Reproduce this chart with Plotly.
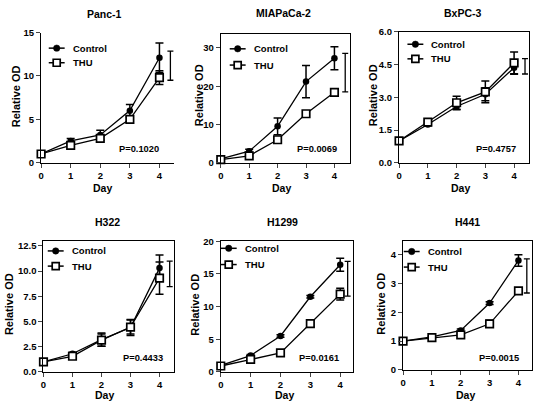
import plotly.graph_objects as go

W, H = 537, 409

days = [0, 1, 2, 3, 4]
day_ticks = ["0", "1", "2", "3", "4"]
panel_titles = ["Panc-1", "MIAPaCa-2", "BxPC-3", "H322", "H1299", "H441"]
p_values = ["P=0.1020", "P=0.0069", "P=0.4757", "P=0.4433", "P=0.0161", "P=0.0015"]
series_names = ["Control", "THU"]

panc1_ctrl = [1.0, 2.5, 3.2, 6.0, 12.1]
panc1_ctrl_err = [0.1, 0.3, 0.55, 0.7, 1.7]
panc1_thu = [1.0, 2.0, 2.8, 5.0, 9.8]
panc1_thu_err = [0.1, 0.2, 0.25, 0.3, 0.8]
panc1_bracket = [9.5, 12.85]

mia_ctrl = [1.0, 3.0, 9.5, 21.2, 27.3]
mia_ctrl_err = [0.3, 0.5, 2.2, 4.2, 3.0]
mia_thu = [0.8, 1.8, 6.0, 12.8, 18.4]
mia_thu_err = [0.2, 0.3, 0.8, 0.5, 0.5]
mia_bracket = [18.5, 28.6]

bx_ctrl = [1.0, 1.75, 2.58, 3.14, 4.36]
bx_ctrl_err = [0.03, 0.05, 0.15, 0.3, 0.3]
bx_thu = [1.0, 1.86, 2.75, 3.25, 4.58]
bx_thu_err = [0.03, 0.05, 0.3, 0.5, 0.5]
bx_bracket = [4.07, 4.78]

h322_ctrl = [1.0, 1.8, 3.2, 4.4, 10.3]
h322_ctrl_err = [0.05, 0.15, 0.65, 0.8, 1.3]
h322_thu = [1.0, 1.55, 3.15, 4.45, 9.3]
h322_thu_err = [0.05, 0.15, 0.6, 0.7, 1.6]
h322_bracket = [8.47, 11.0]

h1299_ctrl = [1.0, 2.5, 5.5, 11.5, 16.4]
h1299_ctrl_err = [0.1, 0.15, 0.2, 0.2, 1.0]
h1299_thu = [0.9, 1.9, 2.9, 7.4, 11.9]
h1299_thu_err = [0.1, 0.15, 0.2, 0.5, 0.9]
h1299_bracket = [11.6, 16.9]

h441_ctrl = [1.0, 1.15, 1.37, 2.32, 3.8]
h441_ctrl_err = [0.02, 0.03, 0.05, 0.05, 0.2]
h441_thu = [1.0, 1.12, 1.22, 1.6, 2.74]
h441_thu_err = [0.02, 0.03, 0.05, 0.12, 0.05]
h441_bracket = [2.67, 3.85]

y_tickvals = [
    [0, 5, 10, 15],
    [0, 10, 20, 30],
    [0, 1.5, 3.0, 4.5, 6.0],
    [0, 2.5, 5.0, 7.5, 10.0, 12.5],
    [0, 5, 10, 15, 20],
    [0, 1, 2, 3, 4],
]
y_ticktext = [
    ["0", "5", "10", "15"],
    ["0", "10", "20", "30"],
    ["0.0", "1.5", "3.0", "4.5", "6.0"],
    ["0.0", "2.5", "5.0", "7.5", "10.0", "12.5"],
    ["0", "5", "10", "15", "20"],
    ["0", "1", "2", "3", "4"],
]
y_ranges = [[0, 15], [0, 33.6], [0, 6], [0, 13.04], [0, 20], [0, 4.49]]
x_max = [4.5, 4.55, 4.52, 4.49, 4.42, 4.46]
bracket_x = [4.37, 4.38, 4.38, 4.35, 4.25, 4.29]

ctrl_all = [panc1_ctrl, mia_ctrl, bx_ctrl, h322_ctrl, h1299_ctrl, h441_ctrl]
ctrl_err_all = [panc1_ctrl_err, mia_ctrl_err, bx_ctrl_err, h322_ctrl_err, h1299_ctrl_err, h441_ctrl_err]
thu_all = [panc1_thu, mia_thu, bx_thu, h322_thu, h1299_thu, h441_thu]
thu_err_all = [panc1_thu_err, mia_thu_err, bx_thu_err, h322_thu_err, h1299_thu_err, h441_thu_err]
brackets = [panc1_bracket, mia_bracket, bx_bracket, h322_bracket, h1299_bracket, h441_bracket]

# pixel geometry of each plot area: left, right, top, bottom
boxes = [
    (38.3, 172.2, 27.3, 161.0),
    (219.0, 349.0, 29.0, 161.0),
    (398.3, 529.0, 26.7, 161.0),
    (40.7, 171.7, 241.0, 376.0),
    (219.0, 351.7, 241.7, 376.0),
    (402.3, 531.7, 241.0, 374.0),
]
title_pos = [(102.5, 8), (281.7, 7.5), (463, 7.5), (105, 221.7), (281, 221.7), (467.5, 221.7)]
ylab_pos = [(13.3, 92.5), (196.7, 92), (371.7, 92), (6.7, 306.7), (193.3, 306.7), (380, 306)]
xlab_pos = [(100, 187), (280, 187), (460, 187), (101.7, 400), (283, 400), (465, 400)]
p_pos = [(136.7, 146.7), (316, 146.7), (496, 146.7), (140.5, 361.7), (317.5, 361.7), (498.5, 361.7)]
# legend key: line start x, first row y, second row y
legend_pos = [(46, 43.3, 58.3), (228, 44, 60.7), (406.7, 39.3, 54.3),
              (45, 251.7, 267.3), (219, 249, 265.7), (403, 252.3, 268.3)]
KEY_LEN = 16
TEXT_GAP = 6

FONT = "Liberation Sans, Arial, sans-serif"

def px(x):
    return x / W

def py(y):
    return 1 - y / H

fig = go.Figure()
layout = dict(
    width=W, height=H, margin=dict(l=0, r=0, t=0, b=0),
    paper_bgcolor="white", plot_bgcolor="white", showlegend=False,
    font=dict(family=FONT, color="black", size=9),
)
annotations = []
shapes = []

for i in range(6):
    n = i + 1
    xa = "x" if n == 1 else f"x{n}"
    ya = "y" if n == 1 else f"y{n}"
    l, r, t, b = boxes[i]
    mirror = False if i == 0 else True
    layout["xaxis" if n == 1 else f"xaxis{n}"] = dict(
        domain=[px(l), px(r)], range=[0, x_max[i]], anchor=ya,
        tickvals=days, ticktext=day_ticks, ticks="outside", ticklen=4, tickwidth=1.3,
        showline=True, linecolor="black", linewidth=1.3, mirror=mirror,
        showgrid=False, zeroline=False, fixedrange=True,
        tickfont=dict(family=FONT, size=9.5, weight="bold", color="black"),
    )
    layout["yaxis" if n == 1 else f"yaxis{n}"] = dict(
        domain=[py(b), py(t)], range=y_ranges[i], anchor=xa,
        tickvals=y_tickvals[i], ticktext=y_ticktext[i], ticks="outside", ticklen=4, tickwidth=1.3,
        showline=True, linecolor="black", linewidth=1.3, mirror=mirror,
        showgrid=False, zeroline=False, fixedrange=True,
        tickfont=dict(family=FONT, size=9.5, weight="bold", color="black"),
    )
    fig.add_trace(go.Scatter(
        x=days, y=ctrl_all[i], mode="lines+markers", name=series_names[0],
        xaxis=xa, yaxis=ya, cliponaxis=False,
        line=dict(color="black", width=1.3),
        marker=dict(symbol="circle", size=6.5, color="black"),
        error_y=dict(type="data", array=ctrl_err_all[i], color="black", thickness=1.5, width=4),
    ))
    fig.add_trace(go.Scatter(
        x=days, y=thu_all[i], mode="lines+markers", name=series_names[1],
        xaxis=xa, yaxis=ya, cliponaxis=False,
        line=dict(color="black", width=1.3),
        marker=dict(symbol="square", size=7.5, color="white", line=dict(color="black", width=1.7)),
        error_y=dict(type="data", array=thu_err_all[i], color="black", thickness=1.5, width=4),
    ))
    lo, hi = brackets[i]
    fig.add_trace(go.Scatter(
        x=[bracket_x[i]], y=[(lo + hi) / 2], mode="markers", showlegend=False,
        xaxis=xa, yaxis=ya, cliponaxis=False, hoverinfo="skip",
        marker=dict(size=1, color="rgba(0,0,0,0)"),
        error_y=dict(type="data", array=[(hi - lo) / 2], color="black", thickness=1.3, width=3),
    ))

    # legend keys (decoration)
    kx, ky1, ky2 = legend_pos[i]
    for name, ky, sym in [(series_names[0], ky1, "circle"), (series_names[1], ky2, "square")]:
        shapes.append(dict(type="line", xref="paper", yref="paper",
                           x0=px(kx), x1=px(kx + KEY_LEN), y0=py(ky), y1=py(ky),
                           line=dict(color="black", width=1.5)))
        cx, cy = px(kx + KEY_LEN / 2), py(ky)
        if sym == "circle":
            shapes.append(dict(type="circle", xref="paper", yref="paper",
                               xsizemode="pixel", ysizemode="pixel", xanchor=cx, yanchor=cy,
                               x0=-3.2, x1=3.2, y0=-3.2, y1=3.2,
                               fillcolor="black", line=dict(color="black", width=0.5)))
        else:
            shapes.append(dict(type="rect", xref="paper", yref="paper",
                               xsizemode="pixel", ysizemode="pixel", xanchor=cx, yanchor=cy,
                               x0=-3.5, x1=3.5, y0=-3.5, y1=3.5,
                               fillcolor="white", line=dict(color="black", width=1.7)))
        annotations.append(dict(x=px(kx + KEY_LEN + TEXT_GAP), y=cy, xref="paper", yref="paper",
                                text=name, showarrow=False, xanchor="left", yanchor="middle",
                                font=dict(family=FONT, size=9.5, weight="bold", color="black")))

    tx, ty = title_pos[i]
    annotations.append(dict(x=px(tx), y=py(ty), xref="paper", yref="paper", text=panel_titles[i],
                            showarrow=False, xanchor="center", yanchor="middle",
                            font=dict(family=FONT, size=10.5, weight="bold", color="black")))
    yx, yy = ylab_pos[i]
    annotations.append(dict(x=px(yx), y=py(yy), xref="paper", yref="paper", text="Relative OD",
                            showarrow=False, xanchor="center", yanchor="middle", textangle=-90,
                            font=dict(family=FONT, size=11, weight="bold", color="black")))
    dx, dy = xlab_pos[i]
    annotations.append(dict(x=px(dx), y=py(dy), xref="paper", yref="paper", text="Day",
                            showarrow=False, xanchor="center", yanchor="middle",
                            font=dict(family=FONT, size=10.5, weight="bold", color="black")))
    qx, qy = p_pos[i]
    annotations.append(dict(x=px(qx), y=py(qy), xref="paper", yref="paper", text=p_values[i],
                            showarrow=False, xanchor="center", yanchor="middle",
                            font=dict(family=FONT, size=9.3, weight="bold", color="black")))

layout["annotations"] = annotations
layout["shapes"] = shapes
fig.update_layout(**layout)
fig.write_html("out.html", config={"displayModeBar": False},
               post_script="document.body.style.margin='0';")
